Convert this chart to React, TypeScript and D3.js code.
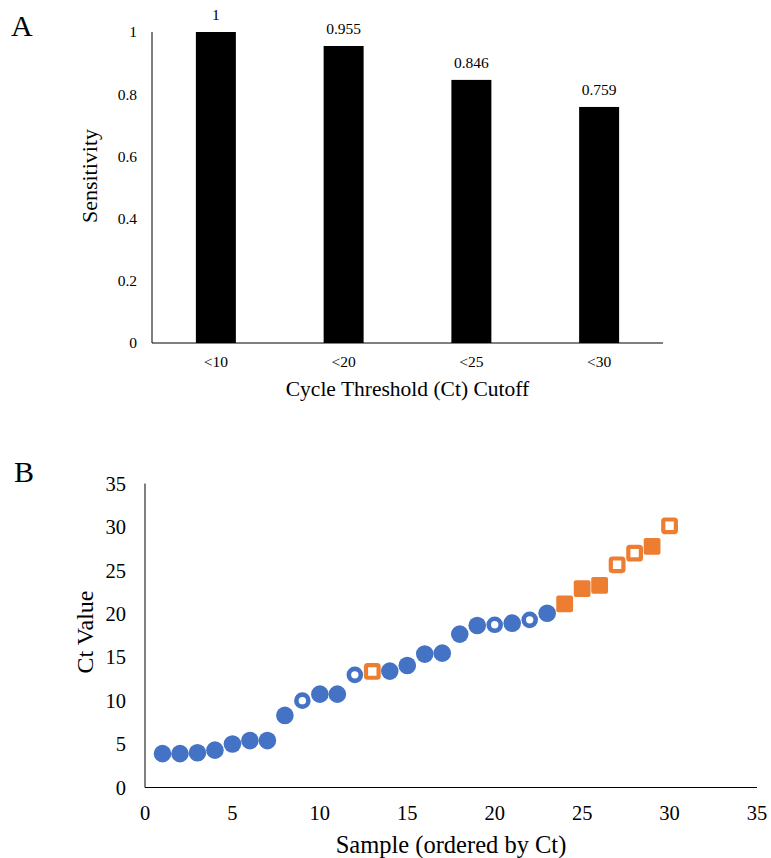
import React from "react";
import * as d3 from "d3";

const categories = ["<10", "<20", "<25", "<30"];
const sensitivity = [1, 0.955, 0.846, 0.759];
const sensitivityLabels = ["1", "0.955", "0.846", "0.759"];
const yTicksA = [0, 0.2, 0.4, 0.6, 0.8, 1];

const samples = [1, 2, 3, 4, 5, 6, 7, 8, 9, 10, 11, 12, 13, 14, 15, 16, 17, 18, 19, 20, 21, 22, 23, 24, 25, 26, 27, 28, 29, 30];
const ctValues = [3.9, 3.9, 4.0, 4.3, 5.0, 5.4, 5.4, 8.3, 10.0, 10.75, 10.75, 12.97, 13.36, 13.4, 14.05, 15.36, 15.47, 17.66, 18.65, 18.73, 18.92, 19.3, 20.07, 21.15, 22.9, 23.26, 25.64, 26.98, 27.75, 30.13];
// fc = filled circle, hc = hollow circle, fs = filled square, hs = hollow square
const markerTypes = ["fc", "fc", "fc", "fc", "fc", "fc", "fc", "fc", "hc", "fc", "fc", "hc", "hs", "fc", "fc", "fc", "fc", "fc", "fc", "hc", "fc", "hc", "fc", "fs", "fs", "fs", "hs", "hs", "fs", "hs"];
const ticksB = [0, 5, 10, 15, 20, 25, 30, 35];

const FONT = "'Liberation Serif', 'Times New Roman', serif";
const BLUE = "#4472C4";
const ORANGE = "#ED7D31";

export default function App() {
  // Panel A
  const ax0 = 152, ax1 = 663, ay0 = 32, ay1 = 343;
  const xA = d3.scaleBand<string>().domain(categories).range([ax0, ax1]).paddingInner(0.687).paddingOuter(0.3435);
  const yA = d3.scaleLinear().domain([0, 1]).range([ay1, ay0]);

  // Panel B
  const bx0 = 145, bx1 = 757, by0 = 483.5, by1 = 787.5;
  const xB = d3.scaleLinear().domain([0, 35]).range([bx0, bx1]);
  const yB = d3.scaleLinear().domain([0, 35]).range([by1, by0]);

  const marker = (t: string, cx: number, cy: number, i: number) => {
    if (t === "fc") return <circle key={i} cx={cx} cy={cy} r={8.8} fill={BLUE} />;
    if (t === "hc") return <circle key={i} cx={cx} cy={cy} r={6} fill="#fff" stroke={BLUE} strokeWidth={4.6} />;
    if (t === "fs") return <rect key={i} x={cx - 8.4} y={cy - 8.4} width={16.8} height={16.8} rx={2} fill={ORANGE} />;
    return <rect key={i} x={cx - 6.3} y={cy - 6.3} width={12.6} height={12.6} rx={1.5} fill="#fff" stroke={ORANGE} strokeWidth={4.2} />;
  };

  return (
    <svg width={771} height={858} style={{ position: "absolute", left: 0, top: 0, background: "#fff" }} fontFamily={FONT}>
      <rect x={0} y={0} width={771} height={858} fill="#fff" />
      {/* Panel A */}
      <text x={11} y={36} fontSize={30} fill="#000">A</text>
      {sensitivity.map((v, i) => (
        <g key={i}>
          <rect x={xA(categories[i])} y={yA(v)} width={xA.bandwidth()} height={yA(0) - yA(v)} fill="#000" />
          <text x={(xA(categories[i]) as number) + xA.bandwidth() / 2} y={yA(v) - 12} fontSize={15.5} textAnchor="middle" fill="#000">{sensitivityLabels[i]}</text>
          <text x={(xA(categories[i]) as number) + xA.bandwidth() / 2} y={366.5} fontSize={15.5} textAnchor="middle" fill="#000">{categories[i]}</text>
        </g>
      ))}
      {yTicksA.map((t) => (
        <text key={t} x={137} y={yA(t)} dy="0.35em" fontSize={15.5} textAnchor="end" fill="#000">{t}</text>
      ))}
      <line x1={ax0} x2={ax0} y1={ay0} y2={ay1} stroke="#000" strokeWidth={1} />
      <line x1={ax0} x2={ax1} y1={ay1} y2={ay1} stroke="#000" strokeWidth={1} />
      <text x={(ax0 + ax1) / 2} y={396} fontSize={21.5} textAnchor="middle" fill="#000">Cycle Threshold (Ct) Cutoff</text>
      <text transform={`translate(97,176) rotate(-90)`} fontSize={22} textAnchor="middle" fill="#000">Sensitivity</text>

      {/* Panel B */}
      <text x={14} y={482} fontSize={30} fill="#000">B</text>
      {ticksB.map((t) => (
        <text key={"y" + t} x={126} y={yB(t)} dy="0.35em" fontSize={20.5} textAnchor="end" fill="#000">{t}</text>
      ))}
      {ticksB.map((t) => (
        <text key={"x" + t} x={xB(t)} y={820} fontSize={20.5} textAnchor="middle" fill="#000">{t}</text>
      ))}
      <line x1={bx0} x2={bx0} y1={by0} y2={by1} stroke="#000" strokeWidth={1} />
      <line x1={bx0} x2={bx1} y1={by1} y2={by1} stroke="#000" strokeWidth={1} />
      {samples.map((s, i) => marker(markerTypes[i], xB(s), yB(ctValues[i]), i))}
      <text x={(bx0 + bx1) / 2} y={853} fontSize={24.5} textAnchor="middle" fill="#000">Sample (ordered by Ct)</text>
      <text transform={`translate(93,632) rotate(-90)`} fontSize={24} textAnchor="middle" fill="#000">Ct Value</text>
    </svg>
  );
}
